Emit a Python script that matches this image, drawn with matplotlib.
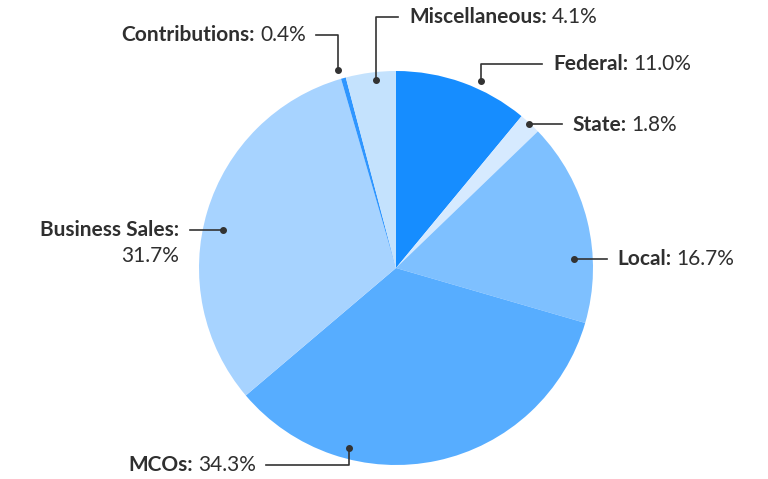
import matplotlib.pyplot as plt

# Revenue sources (percent)
categories = ['Federal', 'State', 'Local', 'MCOs', 'Business Sales',
              'Contributions', 'Miscellaneous']
values = [11.0, 1.8, 16.7, 34.3, 31.7, 0.4, 4.1]
colors = ['#168dff', '#d6eaff', '#7ec0ff', '#57adff', '#a7d3ff',
          '#2f96ff', '#c4e2fd']

plt.rcParams['font.family'] = ['Lato', 'DejaVu Sans']
FS = 15

W, H = 768, 479
fig = plt.figure(figsize=(W / 100, H / 100), dpi=100)
ax = fig.add_axes([0, 0, 1, 1])

cx, cy, r = 396, H - 268, 197
ax.pie(values, colors=colors, startangle=90, counterclock=False,
       center=(cx, cy), radius=r, frame=True,
       wedgeprops=dict(linewidth=0))
ax.set_xlim(0, W)
ax.set_ylim(0, H)
ax.set_aspect('equal')
ax.axis('off')

txt_col = '#2f2f2f'
line_col = '#333333'


def y(v):
    return H - v


def leader(points, label, value, tx, ty, ha):
    xs = [p[0] for p in points]
    ys = [y(p[1]) for p in points]
    ax.plot(xs, ys, color=line_col, lw=1.2, zorder=3)
    ax.plot(xs[0], ys[0], 'o', color=line_col, ms=4, zorder=4)
    if ha == 'left':
        t = ax.text(tx, y(ty), label + ':', fontsize=FS, fontweight='bold',
                    color=txt_col, ha='left', va='center')
        fig.canvas.draw()
        bb = t.get_window_extent()
        ax.text(bb.x1 + 5, y(ty), value, fontsize=FS, color=txt_col,
                ha='left', va='center')
    else:
        t = ax.text(tx, y(ty), value, fontsize=FS, color=txt_col,
                    ha='right', va='center')
        fig.canvas.draw()
        bb = t.get_window_extent()
        ax.text(bb.x0 - 5, y(ty), label + ':', fontsize=FS,
                fontweight='bold', color=txt_col, ha='right', va='center')


leader([(376, 80), (376, 17), (398, 17)], 'Miscellaneous', '4.1%', 409, 17, 'left')
leader([(338, 70), (338, 35), (316, 35)], 'Contributions', '0.4%', 306, 35, 'right')
leader([(481, 81), (481, 64), (542, 64)], 'Federal', '11.0%', 553, 64, 'left')
leader([(529, 124), (562, 124)], 'State', '1.8%', 572, 125, 'left')
leader([(574, 259), (607, 259)], 'Local', '16.7%', 617, 259, 'left')
leader([(349, 448), (349, 465), (266, 465)], 'MCOs', '34.3%', 256, 465, 'right')

# Business Sales label on two lines
ax.plot([223, 190], [y(230), y(230)], color=line_col, lw=1.2, zorder=3)
ax.plot(223, y(230), 'o', color=line_col, ms=4, zorder=4)
ax.text(179, y(230), 'Business Sales:', fontsize=FS, fontweight='bold',
        color=txt_col, ha='right', va='center')
ax.text(179, y(256), '31.7%', fontsize=FS, color=txt_col,
        ha='right', va='center')

fig.savefig('out.png', dpi=100, facecolor='white')
